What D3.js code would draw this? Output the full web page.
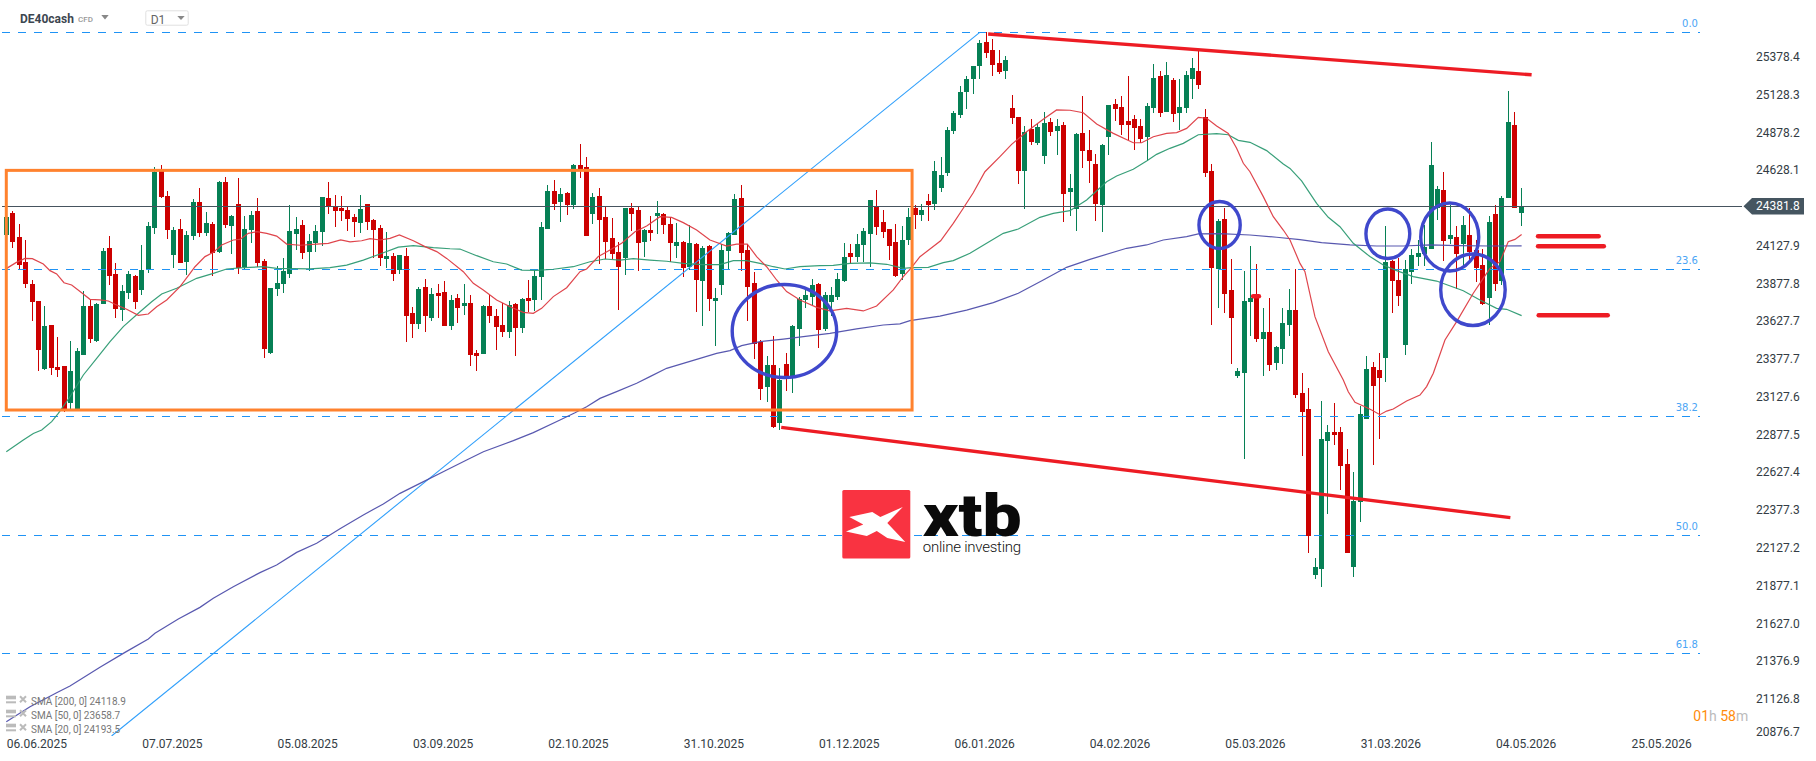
<!DOCTYPE html>
<html><head><meta charset="utf-8">
<script src="https://cdnjs.cloudflare.com/ajax/libs/d3/7.8.5/d3.min.js"></script>
<style>
html,body{margin:0;padding:0;background:#fff;overflow:hidden}
svg{display:block}
text{font-family:Roboto,sans-serif}
</style></head><body>
<svg id="chart" width="1816" height="761"></svg>
<script>
const priceTicks=[25378.4,25128.3,24878.2,24628.1,24127.9,23877.8,23627.7,23377.7,23127.6,22877.5,22627.4,22377.3,22127.2,21877.1,21627.0,21376.9,21126.8,20876.7];
const dateIndex=[0,21,42,63,84,105,126,147,168,189,210,231,252];
const dateLabels=["06.06.2025","07.07.2025","05.08.2025","03.09.2025","02.10.2025","31.10.2025","01.12.2025","06.01.2026","04.02.2026","05.03.2026","31.03.2026","04.05.2026","25.05.2026"];
const opens=[24191,24334,24177,24012,23866,23754,23303,23595,23316,23323,
23080,23041,23398,23720,23489,23736,24105,23932,23696,23809,
23919,23829,23963,24239,24621,24449,24060,24230,24014,24186,
24409,24206,24264,24080,24542,24252,24396,23979,24226,24350,
24019,23411,23835,23868,23932,24197,24257,24078,24138,24211,
24436,24383,24369,24356,24310,24270,24396,24290,24237,24032,
24052,23959,24052,23674,23601,23846,23641,23807,23813,23588,
23773,23721,23741,23410,23403,23721,23655,23595,23549,23734,
23575,23774,23761,23913,24231,24483,24410,24470,24390,24655,
24639,24330,24450,24311,24171,24079,24039,24370,24357,24145,
24224,24317,24330,24264,24119,24145,23979,24132,23887,24119,
23754,23860,24085,24191,24436,24092,23873,23483,23185,23330,
22946,23337,23258,23569,23761,23781,23867,23569,23748,23781,
23887,24072,24046,24125,24198,24377,24277,24231,24145,23933,
24158,24370,24324,24416,24396,24502,24602,24880,24986,25138,
25224,25310,25469,25416,25330,25277,25032,24973,24615,24893,
24800,24714,24940,24880,24920,24476,24363,24867,24754,24661,
24390,24840,25059,25039,24946,24959,24913,24840,25032,25244,
25006,25218,24999,25032,25224,25277,24973,24615,23966,24297,
23827,23258,23278,23748,23794,23503,23549,23344,23436,23595,
23695,23145,23039,21940,21979,22827,22887,22887,22675,21993,
22423,22973,23317,23297,23377,24019,23893,23463,23946,24046,
24066,24099,24370,24489,24165,24178,24132,24191,24092,23993,
23774,24331,23887,24437,24920,24337];
const closes=[24312,24147,23992,23868,23749,23431,23588,23312,23297,23027,
23290,23422,23720,23502,23736,24085,23921,23703,23820,23932,
23749,23959,24250,24608,24445,24226,24224,24007,24191,24409,
24206,24270,24074,24542,24257,24317,23972,24230,24323,24007,
23438,23840,23873,23952,24217,24230,24071,24151,24217,24442,
24383,24350,24350,24297,24277,24363,24277,24224,24038,24052,
23932,24058,23654,23601,23833,23654,23800,23787,23588,23760,
23707,23741,23397,23390,23721,23655,23582,23549,23728,23575,
23768,23754,23920,24244,24483,24397,24463,24390,24655,24622,
24185,24443,24291,24145,24066,23979,24370,24330,24138,24224,
24205,24337,24258,24138,24145,23973,24138,23893,24105,23768,
23774,24092,24205,24430,24072,23847,23470,23171,23330,22920,
23231,23251,23589,23768,23794,23860,23562,23794,23794,23900,
24046,24046,24132,24218,24423,24244,24211,24119,23920,24158,
24311,24324,24357,24390,24615,24588,24886,24999,25138,25224,
25310,25463,25396,25317,25271,25350,24966,24615,24873,24807,
24906,24933,24873,24913,24463,24502,24860,24747,24681,24396,
24787,25052,25026,24920,24920,24900,24827,25045,25231,24999,
25251,24992,25039,25251,25297,25184,24602,23973,24284,23801,
23642,23291,23754,23774,23503,23549,23331,23450,23609,23695,
23132,23019,22200,21993,22840,22887,22867,22662,22085,22430,
23006,23304,23191,23244,24013,23887,23787,23966,24059,24072,
24112,24655,24496,24152,24191,24066,24258,24079,23973,23735,
24278,23867,24437,24940,24370,24382];
const highs=[24312,24352,24264,24158,23893,23754,23720,23595,23515,23323,
23489,23440,23820,23760,23740,24105,24184,24005,23860,23952,
23926,24125,24277,24641,24654,24482,24246,24297,24217,24429,
24502,24343,24277,24548,24575,24323,24568,24317,24350,24436,
24032,23840,23985,24038,24389,24310,24290,24197,24257,24442,
24542,24456,24449,24376,24330,24456,24396,24297,24257,24211,
24069,24058,24105,23714,23846,23899,23840,23866,23886,23793,
23800,23867,23794,23430,23728,23794,23701,23741,23754,23741,
23774,23893,23966,24277,24522,24556,24503,24476,24659,24794,
24708,24470,24503,24377,24304,24145,24370,24403,24377,24231,
24317,24417,24337,24313,24271,24152,24258,24138,24119,24125,
23840,24132,24211,24463,24522,24132,23946,23496,23390,23522,
23311,23410,23595,23781,23827,23900,23873,23814,23847,23940,
24138,24132,24198,24238,24423,24489,24357,24231,24264,24251,
24370,24390,24396,24463,24681,24708,24906,25012,25178,25244,
25310,25482,25535,25489,25416,25377,25118,24973,24913,24959,
24926,25006,24966,24959,24940,24595,24867,25112,24886,24728,
24794,25052,25092,25112,25244,24986,24959,25065,25324,25277,
25337,25231,25224,25277,25363,25416,25026,24662,24297,24370,
24033,23311,23953,24119,24000,23708,23774,23456,23708,23834,
23966,23277,23178,22052,23092,22933,23079,22920,22774,22622,
23059,23390,23350,23410,24251,24026,24039,24026,24099,24158,
24258,24807,24516,24609,24390,24251,24317,24370,24158,24099,
24317,24390,24450,25145,25006,24503];
const lows=[24191,24107,23963,23842,23621,23292,23297,23264,23252,23021,
23032,23036,23398,23473,23484,23736,23860,23641,23621,23769,
23701,23793,23941,24199,24436,24164,23974,24003,23926,24160,
24177,24186,23921,24074,24239,24065,23932,23965,24140,23981,
23378,23405,23787,23807,23908,24091,24032,23950,24078,24118,
24330,24244,24283,24217,24177,24204,24224,24036,23985,23972,
23886,23932,23482,23509,23568,23548,23621,23641,23588,23562,
23608,23662,23324,23291,23403,23609,23430,23516,23509,23390,
23542,23681,23688,23761,24231,24357,24277,24324,24364,24569,
24185,24264,23999,24032,24032,23695,23926,24218,23953,24046,
24152,24198,24196,24015,24039,23913,23960,23681,23589,23688,
23456,23794,23966,24191,23953,23622,23370,23098,23085,22913,
22900,23158,23145,23456,23708,23728,23443,23556,23655,23761,
23880,23999,24013,24013,23979,24191,24171,24026,23913,23893,
24125,24231,24284,24284,24357,24476,24582,24860,24966,25026,
25125,25224,25363,25244,25257,25224,24926,24529,24363,24787,
24787,24661,24847,24721,24277,24317,24218,24635,24536,24284,
24211,24721,24946,24853,24820,24754,24800,24681,24999,24973,
25006,24940,24886,24999,25092,25158,24576,23595,23708,23675,
23337,23244,22710,23523,23483,23258,23291,23297,23337,23523,
23114,22728,22085,21913,21860,22344,22801,22503,22085,21926,
22291,22973,22668,22840,23218,23675,23721,23397,23867,23986,
23986,24099,24291,24019,24132,23834,23982,24026,23880,23728,
23595,23821,23860,24437,24370,24251];
const sma200=[[0,20968],[3.68,21067],[7.81,21160],[9.88,21204],[14.53,21328],[18.41,21427],[22.03,21516],[23.06,21553],[26.68,21648],[30.04,21725],[32.11,21785],[35.21,21862],[39.35,21955],[41.93,22006],[45.04,22089],[48.14,22149],[51.76,22246],[55.38,22337],[58.48,22410],[61.07,22480],[64.17,22546],[68.31,22635],[71.41,22701],[74,22756],[78.65,22829],[81.75,22882],[85.89,22966],[88.21,23014],[90.02,23054],[92.09,23109],[94.67,23154],[97.78,23209],[99.84,23253],[102.43,23308],[105.01,23341],[107.6,23374],[110.18,23407],[112.25,23425],[114.06,23458],[116.91,23485],[120.53,23502],[123.63,23518],[127.76,23540],[131.9,23569],[136.04,23595],[138.62,23602],[140.18,23624],[144.82,23654],[148.96,23694],[153.1,23743],[156.98,23805],[160.85,23893],[164.47,23977],[168.09,24030],[173.78,24103],[176.88,24125],[179.47,24158],[183.09,24180],[184.9,24198],[188.26,24200],[192.91,24191],[197.05,24176],[200.67,24160],[204.02,24140],[208.42,24125],[212.56,24118],[216.69,24118],[220.83,24125],[224.97,24120],[230.14,24118],[235.05,24119]];
const sma50=[[0,22756],[2.64,22833],[4.19,22877],[5.49,22900],[7.04,22955],[8.07,23010],[9.88,23120],[11.95,23264],[14.02,23374],[16.09,23485],[18.15,23584],[20.74,23683],[22.55,23749],[24.1,23800],[26.43,23838],[29.53,23904],[32.12,23937],[34.18,23966],[36.77,23975],[39.87,23981],[41.94,23970],[44.52,23968],[47.11,23966],[50.21,23975],[52.8,23992],[55.38,24025],[57.97,24065],[60.81,24111],[63.14,24120],[66.24,24107],[68.83,24100],[70.37,24098],[72.96,24054],[75.54,24014],[77.61,23999],[79.94,23959],[82.26,23957],[84.85,23964],[87.95,23981],[90.54,24014],[92.86,24032],[95.19,24025],[97.26,24034],[99.84,24025],[102.43,24017],[105.01,24003],[108.12,23995],[110.7,23995],[112.77,24021],[114.84,24021],[116.91,24003],[118.98,23981],[120.78,23966],[123.11,23981],[126.21,23988],[128.28,23990],[130.87,24003],[133.97,24006],[136.56,23997],[139.14,23970],[140.43,23975],[143.02,23977],[145.34,24008],[146.89,24021],[149.48,24070],[152.06,24136],[154.65,24202],[156.98,24231],[160.34,24308],[162.4,24334],[164.99,24352],[167.58,24423],[170.68,24544],[172.23,24582],[174.81,24626],[176.88,24681],[178.43,24725],[180.5,24765],[182.57,24798],[184.9,24855],[187.74,24862],[189.55,24855],[191.1,24818],[192.91,24805],[195.5,24750],[198.08,24661],[199.12,24632],[200.92,24549],[203.25,24401],[205.06,24308],[206.87,24246],[208.94,24136],[211.52,24048],[213.59,23992],[215.66,23955],[218.24,23915],[221.86,23886],[226,23822],[228.58,23761],[231.17,23705],[232.72,23699],[235.05,23657]];
const sma20=[[0.06,23970],[1.5,24008],[2.9,24036],[4.04,24034],[5.74,23999],[6.78,23955],[7.81,23933],[8.95,23875],[10.14,23860],[11.69,23809],[12.98,23765],[14.53,23761],[15.83,23754],[16.86,23732],[18.67,23699],[20.48,23659],[22.03,23668],[23.32,23716],[24.88,23761],[26.95,23849],[28.5,23937],[29.27,23981],[30.82,24048],[32.12,24076],[33.41,24125],[35.22,24158],[36.25,24162],[37.54,24202],[38.84,24213],[40.39,24202],[41.94,24184],[43.49,24131],[45.56,24123],[48.14,24131],[49.95,24136],[51.87,24158],[53.32,24145],[55.12,24153],[56.42,24167],[57.97,24158],[59.52,24169],[60.97,24191],[63.14,24153],[64.95,24114],[66.76,24081],[68.31,24036],[70.89,23948],[72.44,23871],[73.99,23827],[76.06,23761],[78.13,23716],[80.2,23679],[81.75,23672],[83.04,23705],[84.85,23783],[86.92,23842],[88.99,23948],[90.02,23966],[91.83,24048],[93.64,24092],[95.45,24136],[97.52,24213],[99.33,24251],[101.4,24312],[103.2,24308],[105.01,24273],[107.08,24224],[109.15,24158],[111.74,24118],[113.29,24131],[114.94,24131],[116.39,24048],[117.94,23981],[119.49,23893],[121.04,23816],[123.11,23761],[125.7,23712],[127.76,23688],[130.35,23705],[132.94,23688],[135,23721],[137.59,23827],[139.14,23915],[140.43,23977],[141.72,24047],[144.93,24153],[146.89,24268],[148.44,24368],[149.99,24471],[151.8,24610],[154.13,24710],[155.94,24791],[158.27,24875],[160.85,24957],[162.92,25019],[164.99,25017],[167.06,25001],[169.13,24926],[171.71,24864],[174.81,24802],[176.11,24802],[177.92,24842],[179.98,24864],[181.54,24869],[183.09,24897],[184.9,24970],[186.19,24964],[187.74,24913],[189.55,24864],[190.84,24765],[191.88,24666],[192.91,24610],[194.98,24445],[196.53,24312],[198.08,24224],[199.12,24158],[200.67,24003],[201.44,23948],[202.99,23650],[205.06,23418],[207.39,23231],[208.16,23153],[209.2,23083],[210.75,23054],[211.78,23032],[213.07,23001],[214.11,23025],[215.14,23039],[217.21,23092],[219.28,23131],[220.31,23187],[221.35,23275],[223.16,23496],[224.97,23617],[227.55,23805],[229.1,23904],[230.14,23970],[231.69,24014],[232.98,24147],[234.01,24162],[235.05,24195]];
const fibLabels=["0.0","23.6","38.2","50.0","61.8"];
const fibPrices=[25533.4,23963.8,22992.3,22202.3,21420.8];
const fibLine=[[16.33,20873],[151,25533]];
const lastPrice=24381.8;
const boxCorners=[[0,24619],[140.5,23032]];
const ellipses=[[112.6,128.8,23863,23247],[185,191.4,24413,24102],[210.9,217.7,24363,24035],[219.4,228.4,24403,23953],[222.5,232.5,24065,23592]];
const redLines=[[[152.3,25522],[236.6,25252]],[[120.2,22917],[233.3,22319]]];
const redLevels=[[237.6,247,24182],[237.6,247.8,24116],[237.7,248.4,23659],[193.4,194.3,23785]];
const legendNames=["SMA [200, 0] 24118.9","SMA [50, 0] 23658.7","SMA [20, 0] 24193.5"];

const svg=d3.select("#chart");
const x=d3.scaleLinear().domain([0,235]).range([6.3,1521.3]);
const y=d3.scaleLinear().domain([25378.4,20876.7]).range([55.7,735.46]);
const px=i=>Math.floor(x(i));
svg.append("defs").append("clipPath").attr("id","plot").append("rect").attr("x",0).attr("y",0).attr("width",1816).attr("height",736);
const plot=svg.append("g").attr("clip-path","url(#plot)");

// candles
const candles=plot.append("g").attr("shape-rendering","crispEdges");
const col=i=>closes[i]>=opens[i]?"#068055":"#cc0000";
candles.selectAll("rect.w").data(d3.range(opens.length)).join("rect").attr("class","w")
 .attr("x",i=>px(i)).attr("width",1).attr("y",i=>y(highs[i])).attr("height",i=>Math.max(1,y(lows[i])-y(highs[i]))).attr("fill",col);
candles.selectAll("rect.b").data(d3.range(opens.length)).join("rect").attr("class","b")
 .attr("x",i=>px(i)-2).attr("width",5).attr("y",i=>y(Math.max(opens[i],closes[i]))).attr("height",i=>Math.max(1,Math.abs(y(opens[i])-y(closes[i])))).attr("fill",col);

// last price line
plot.append("line").attr("x1",x(-0.7)).attr("x2",x(269.3)).attr("y1",y(lastPrice)).attr("y2",y(lastPrice)).attr("stroke","#46545f").attr("stroke-width",1).attr("shape-rendering","crispEdges");

// fib levels
plot.selectAll("line.fib").data(fibPrices).join("line").attr("class","fib")
 .attr("x1",x(-0.67)).attr("x2",x(262.7)).attr("y1",d=>y(d)).attr("y2",d=>y(d))
 .attr("stroke","#1f93f5").attr("stroke-width",1).attr("stroke-dasharray","8 8").attr("shape-rendering","crispEdges");
plot.selectAll("text.fl").data(fibPrices).join("text").attr("class","fl")
 .attr("x",x(262.4)).attr("y",d=>y(d)-5.3).attr("text-anchor","end")
 .style("font-family","'DejaVu Sans'").style("font-size","10px").attr("fill","#4aa5f5").text((d,i)=>fibLabels[i]);
const line=d3.line().x(d=>x(d[0])).y(d=>y(d[1]));
plot.append("path").attr("d",line(fibLine)).attr("fill","none").attr("stroke","#2f9ffb").attr("stroke-width",1.1);

// SMAs
[[sma200,"#4f4fab"],[sma50,"#2d9a72"],[sma20,"#dd3b42"]].forEach(([s,c])=>{
 plot.append("path").attr("d",line(s)).attr("fill","none").attr("stroke",c).attr("stroke-width",1.2).attr("stroke-opacity",.95);
});

// orange box
plot.append("rect").attr("x",x(boxCorners[0][0])).attr("y",y(boxCorners[0][1]))
 .attr("width",x(boxCorners[1][0])-x(boxCorners[0][0])).attr("height",y(boxCorners[1][1])-y(boxCorners[0][1]))
 .attr("fill","none").attr("stroke","#ff822e").attr("stroke-width",3);

// ellipses
plot.selectAll("ellipse").data(ellipses).join("ellipse")
 .attr("cx",d=>(x(d[0])+x(d[1]))/2).attr("cy",d=>(y(d[2])+y(d[3]))/2)
 .attr("rx",d=>(x(d[1])-x(d[0]))/2).attr("ry",d=>(y(d[3])-y(d[2]))/2)
 .attr("fill","none").attr("stroke","#3f48cc").attr("stroke-width",3.4);

// red lines
plot.selectAll("path.rl").data(redLines).join("path").attr("class","rl").attr("d",line).attr("fill","none").attr("stroke","#ed1c24").attr("stroke-width",3.4);
plot.selectAll("line.rh").data(redLevels).join("line").attr("class","rh")
 .attr("x1",d=>x(d[0])).attr("x2",d=>x(d[1])).attr("y1",d=>y(d[2])).attr("y2",d=>y(d[2]))
 .attr("stroke","#ed1c24").attr("stroke-width",4.5).attr("stroke-linecap","round");

// logo
const logo=svg.append("g").attr("transform","translate(842.3,490)");
logo.append("rect").attr("width",68).attr("height",68.5).attr("rx",1.5).attr("fill","#f93341");
logo.append("polygon").attr("fill","#fff").attr("points","7,27 30,22 38,27 60.5,17 45,33 63,52 45,48 34.5,41 24.5,46 3.7,41.5 21,34.5");
svg.append("text").attr("x",922.7).attr("y",536).attr("textLength",99).attr("lengthAdjust","spacingAndGlyphs").style("font-size","60px").style("font-weight",900).attr("fill","#0a0a0a").text("xtb");
svg.append("text").attr("x",922.7).attr("y",551.7).attr("textLength",98.5).attr("lengthAdjust","spacing").style("font-size","15px").style("font-weight",300).attr("fill","#111").text("online investing");

// price axis
const yAxis=d3.axisRight(y).tickValues(priceTicks).tickSize(0).tickPadding(0).tickFormat(d3.format(".1f"));
const ya=svg.append("g").attr("transform","translate(1756,1)").call(yAxis);
ya.select(".domain").remove();
ya.selectAll("text").style("font-family","Roboto").style("font-size","12px").attr("fill","#333c44");
ya.selectAll(".tick").filter(d=>d===20876.7).select("text").attr("y",-5);

// date axis
const xAxis=d3.axisBottom(x).tickValues(dateIndex).tickSize(0).tickPadding(0).tickFormat((d,i)=>dateLabels[i]);
const xa=svg.append("g").attr("transform","translate(0,748)").call(xAxis);
xa.select(".domain").remove();
xa.selectAll("text").attr("y",0).attr("dy",0).attr("text-anchor","start").style("font-family","Roboto").style("font-size","12px").attr("fill","#333c44");

// current price tag
const ly=y(lastPrice);
svg.append("polygon").attr("fill","#455560").attr("points",`1743.5,${ly} 1752,${ly-8.3} 1804,${ly-8.3} 1804,${ly+8.3} 1752,${ly+8.3}`);
svg.append("text").attr("x",1756).attr("y",ly+4.3).attr("fill","#fff").style("font-size","12px").text(d3.format(".1f")(lastPrice));

// timer
const t=svg.append("text").attr("x",1693.3).attr("y",721).style("font-size","14px");
[["01","#ff8c0a"],["h ","#bbb"],["58","#ff8c0a"],["m","#bbb"]].forEach(([s,c])=>t.append("tspan").attr("fill",c).text(s));

// header
svg.append("text").attr("x",20).attr("y",23).style("font-size","12px").style("font-weight",700).attr("fill","#3c4650").text("DE40cash");
svg.append("text").attr("x",78).attr("y",22).style("font-size","8px").style("font-weight",500).attr("fill","#999").text("CFD");
svg.append("polygon").attr("points","101.3,15 108.7,15 105,19.5").attr("fill","#888");
svg.append("rect").attr("x",145.8).attr("y",10.8).attr("width",42.4).attr("height",14.4).attr("rx",1.5).attr("fill","#fff").attr("stroke","#e0e0e0");
svg.append("text").attr("x",150.7).attr("y",24).style("font-size","12px").attr("fill","#666").text("D1");
svg.append("polygon").attr("points","177.3,16 184.7,16 181,20").attr("fill","#888");

// legend
const lg=svg.append("g").selectAll("g").data(legendNames).join("g").attr("transform",(d,i)=>`translate(0,${701.3+14*i})`);
lg.append("rect").attr("x",6).attr("y",-5.6).attr("width",10).attr("height",3.6).attr("fill","#bbb");
lg.append("rect").attr("x",6).attr("y",0).attr("width",10).attr("height",2).attr("fill","#bbb");
lg.append("path").attr("d","M20,-5L26,1M26,-5L20,1").attr("stroke","#bbb").attr("stroke-width",2);
lg.append("text").attr("x",31).attr("y",3.6).style("font-size","10px").attr("fill","#777").text(d=>d);
</script>
</body></html>
